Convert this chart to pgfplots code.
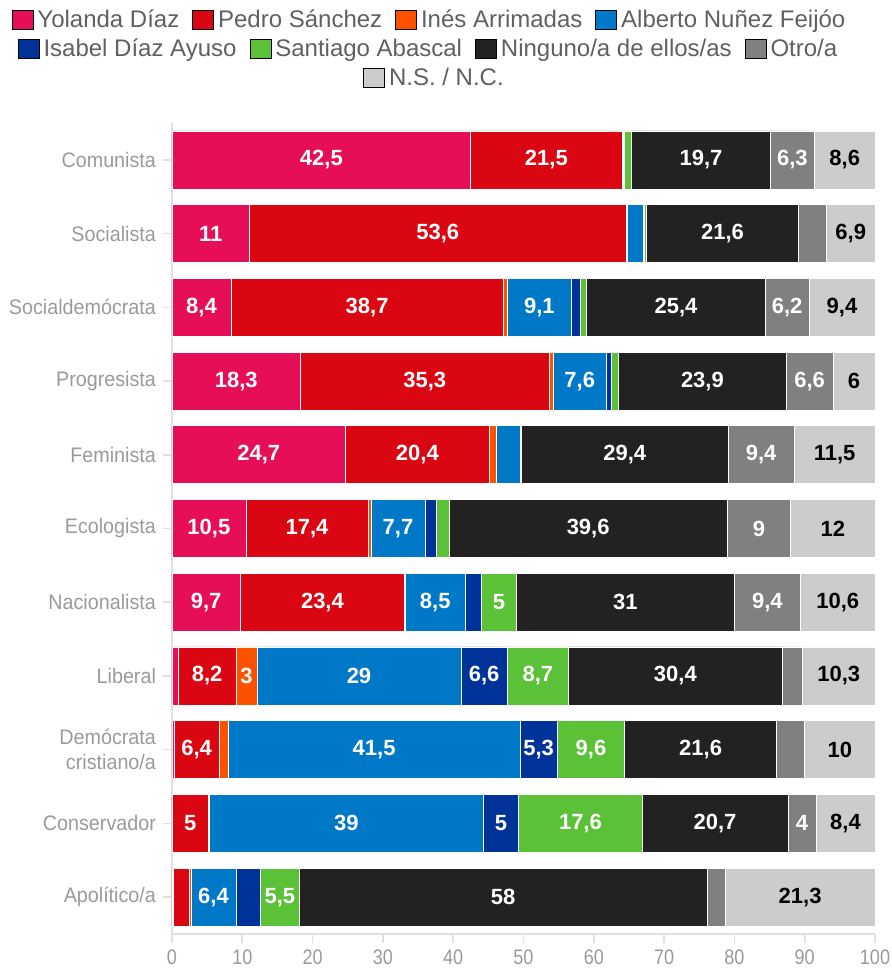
\documentclass[border=0pt]{standalone}
\usepackage{pgfplots}
\pgfplotsset{compat=1.18}
\usepackage{fontspec}
\setmainfont{Liberation Sans}
\newfontfamily\tickf[FakeStretch=0.94]{Liberation Sans}
\newfontfamily\xtickf[FakeStretch=0.86]{Liberation Sans}
\newfontfamily\labf{Liberation Sans}
\definecolor{cyol}{HTML}{E60E56}
\definecolor{cped}{HTML}{DA0612}
\definecolor{cine}{HTML}{FC5200}
\definecolor{cfei}{HTML}{0078C8}
\definecolor{cayu}{HTML}{00339A}
\definecolor{csan}{HTML}{5BC136}
\definecolor{cnin}{HTML}{222222}
\definecolor{cotr}{HTML}{808080}
\definecolor{cns}{HTML}{CCCCCC}
\definecolor{axgray}{HTML}{E0E0E0}
\definecolor{tickgray}{HTML}{9A9A9A}
\definecolor{leggray}{HTML}{606060}
\begin{document}
\begin{tikzpicture}
\begin{axis}[name=main, scale only axis, width=351.5pt, height=405.5pt,
  xbar stacked, bar width=29pt,
  xmin=0, xmax=100, ymin=-0.5, ymax=10.5, y dir=reverse,
  ytick={0,...,10},
  yticklabels={Comunista, Socialista, Socialdemócrata, Progresista, Feminista, Ecologista, Nacionalista, Liberal, {Demócrata\\cristiano/a}, Conservador, Apolítico/a},
  xtick={0,10,...,100},
  axis x line*=bottom, axis y line*=left,
  axis line style={draw=axgray, line width=0.8pt},
  tick align=outside, major tick length=4.5pt,
  tick style={draw=axgray, line width=0.8pt},
  yticklabel style={font=\tickf\fontsize{10.5}{12.5}\selectfont, text=tickgray, align=right},
  xticklabel style={font=\xtickf\fontsize{10.5}{12.5}\selectfont, text=tickgray},
  /pgf/number format/assume math mode=true,
  point meta=explicit symbolic,
  nodes near coords={\pgfplotspointmeta},
  nodes near coords align={center},
  every node near coord/.append style={anchor=center, font=\labf\bfseries\fontsize{11}{13}\selectfont, text=white, inner sep=0pt},
  clip=false,
]
% Yolanda Diaz
\addplot[fill=cyol, draw=white, line width=0.3pt] coordinates {
 (42.5,0) [{42,5}] (11,1) [{11}] (8.4,2) [{8,4}] (18.3,3) [{18,3}] (24.7,4) [{24,7}] (10.5,5) [{10,5}]
 (9.7,6) [{9,7}] (0.9,7) [{}] (0.3,8) [{}] (0.1,9) [{}] (0.2,10) [{}] };
% Pedro Sanchez
\addplot[fill=cped, draw=white, line width=0.3pt] coordinates {
 (21.5,0) [{21,5}] (53.6,1) [{53,6}] (38.7,2) [{38,7}] (35.3,3) [{35,3}] (20.4,4) [{20,4}] (17.4,5) [{17,4}]
 (23.4,6) [{23,4}] (8.2,7) [{8,2}] (6.4,8) [{6,4}] (5,9) [{5}] (2.3,10) [{}] };
% Ines Arrimadas
\addplot[fill=cine, draw=white, line width=0.3pt] coordinates {
 (0.2,0) [{}] (0.2,1) [{}] (0.6,2) [{}] (0.6,3) [{}] (1.0,4) [{}] (0.4,5) [{}]
 (0.1,6) [{}] (3,7) [{3}] (1.3,8) [{}] (0.2,9) [{}] (0.2,10) [{}] };
% Alberto Nunez Feijoo
\addplot[fill=cfei, draw=white, line width=0.3pt] coordinates {
 (0.1,0) [{}] (2.2,1) [{}] (9.1,2) [{9,1}] (7.6,3) [{7,6}] (3.5,4) [{}] (7.7,5) [{7,7}]
 (8.5,6) [{8,5}] (29,7) [{29}] (41.5,8) [{41,5}] (39,9) [{39}] (6.4,10) [{6,4}] };
% Isabel Diaz Ayuso
\addplot[fill=cayu, draw=white, line width=0.3pt] coordinates {
 (0.1,0) [{}] (0.2,1) [{}] (1.3,2) [{}] (0.7,3) [{}] (0.1,4) [{}] (1.6,5) [{}]
 (2.3,6) [{}] (6.6,7) [{6,6}] (5.3,8) [{5,3}] (5,9) [{5}] (3.5,10) [{}] };
% Santiago Abascal
\addplot[fill=csan, draw=white, line width=0.3pt] coordinates {
 (1.0,0) [{}] (0.3,1) [{}] (0.9,2) [{}] (1.0,3) [{}] (0,4) [{}] (1.8,5) [{}]
 (5,6) [{5}] (8.7,7) [{8,7}] (9.6,8) [{9,6}] (17.6,9) [{17,6}] (5.5,10) [{5,5}] };
% Ninguno/a de ellos/as
\addplot[fill=cnin, draw=white, line width=0.3pt] coordinates {
 (19.7,0) [{19,7}] (21.6,1) [{21,6}] (25.4,2) [{25,4}] (23.9,3) [{23,9}] (29.4,4) [{29,4}] (39.6,5) [{39,6}]
 (31,6) [{31}] (30.4,7) [{30,4}] (21.6,8) [{21,6}] (20.7,9) [{20,7}] (58,10) [{58}] };
% Otro/a
\addplot[fill=cotr, draw=white, line width=0.3pt] coordinates {
 (6.3,0) [{6,3}] (4.0,1) [{}] (6.2,2) [{6,2}] (6.6,3) [{6,6}] (9.4,4) [{9,4}] (9,5) [{9}]
 (9.4,6) [{9,4}] (2.9,7) [{}] (4.0,8) [{}] (4,9) [{4}] (2.6,10) [{}] };
% N.S. / N.C.
\addplot[fill=cns, draw=white, line width=0.3pt, every node near coord/.append style={text=black}] coordinates {
 (8.6,0) [{8,6}] (6.9,1) [{6,9}] (9.4,2) [{9,4}] (6,3) [{6}] (11.5,4) [{11,5}] (12,5) [{12}]
 (10.6,6) [{10,6}] (10.3,7) [{10,3}] (10,8) [{10}] (8.4,9) [{8,4}] (21.3,10) [{21,3}] };
\end{axis}
% legend row 1
\begin{axis}[at={(main.south west)}, anchor=south west, scale only axis, width=351.5pt, height=405.5pt,
  hide axis, xmin=0, xmax=1, ymin=0, ymax=1,
  legend columns=-1,
  legend style={at={(0.5,1)}, anchor=center, xshift=-46.5pt, yshift=51.5pt, draw=none, fill=none,
    font=\fontsize{12}{14}\selectfont, text=leggray, inner sep=0pt,
    /tikz/every even column/.append style={column sep=4.5pt}},
  legend image code/.code={\fill[#1] (0pt,-4.75pt) rectangle (10.5pt,4.75pt);},
]
\addlegendimage{fill=cyol}\addlegendentry{Yolanda Díaz}
\addlegendimage{fill=cped}\addlegendentry{Pedro Sánchez}
\addlegendimage{fill=cine}\addlegendentry{Inés Arrimadas}
\addlegendimage{fill=cfei}\addlegendentry{Alberto Nuñez Feijóo}
\end{axis}
% legend row 2
\begin{axis}[at={(main.south west)}, anchor=south west, scale only axis, width=351.5pt, height=405.5pt,
  hide axis, xmin=0, xmax=1, ymin=0, ymax=1,
  legend columns=-1,
  legend style={at={(0.5,1)}, anchor=center, xshift=-47pt, yshift=37pt, draw=none, fill=none,
    font=\fontsize{12}{14}\selectfont, text=leggray, inner sep=0pt,
    /tikz/every even column/.append style={column sep=4.5pt}},
  legend image code/.code={\fill[#1] (0pt,-4.75pt) rectangle (10.5pt,4.75pt);},
]
\addlegendimage{fill=cayu}\addlegendentry{Isabel Díaz Ayuso}
\addlegendimage{fill=csan}\addlegendentry{Santiago Abascal}
\addlegendimage{fill=cnin}\addlegendentry{Ninguno/a de ellos/as}
\addlegendimage{fill=cotr}\addlegendentry{Otro/a}
\end{axis}
% legend row 3
\begin{axis}[at={(main.south west)}, anchor=south west, scale only axis, width=351.5pt, height=405.5pt,
  hide axis, xmin=0, xmax=1, ymin=0, ymax=1,
  legend columns=-1,
  legend style={at={(0.5,1)}, anchor=center, xshift=-44pt, yshift=22.5pt, draw=none, fill=none,
    font=\fontsize{12}{14}\selectfont, text=leggray, inner sep=0pt,
    /tikz/every even column/.append style={column sep=4.5pt}},
  legend image code/.code={\fill[#1] (0pt,-4.75pt) rectangle (10.5pt,4.75pt);},
]
\addlegendimage{fill=cns}\addlegendentry{N.S. / N.C.}
\end{axis}
\path (main.south west) ++(-86pt,-18.5pt) coordinate (bbA);
\path (main.north east) ++(8pt,61.5pt) coordinate (bbB);
\pgfresetboundingbox
\path[use as bounding box] (bbA) rectangle (bbB);
\end{tikzpicture}
\end{document}
